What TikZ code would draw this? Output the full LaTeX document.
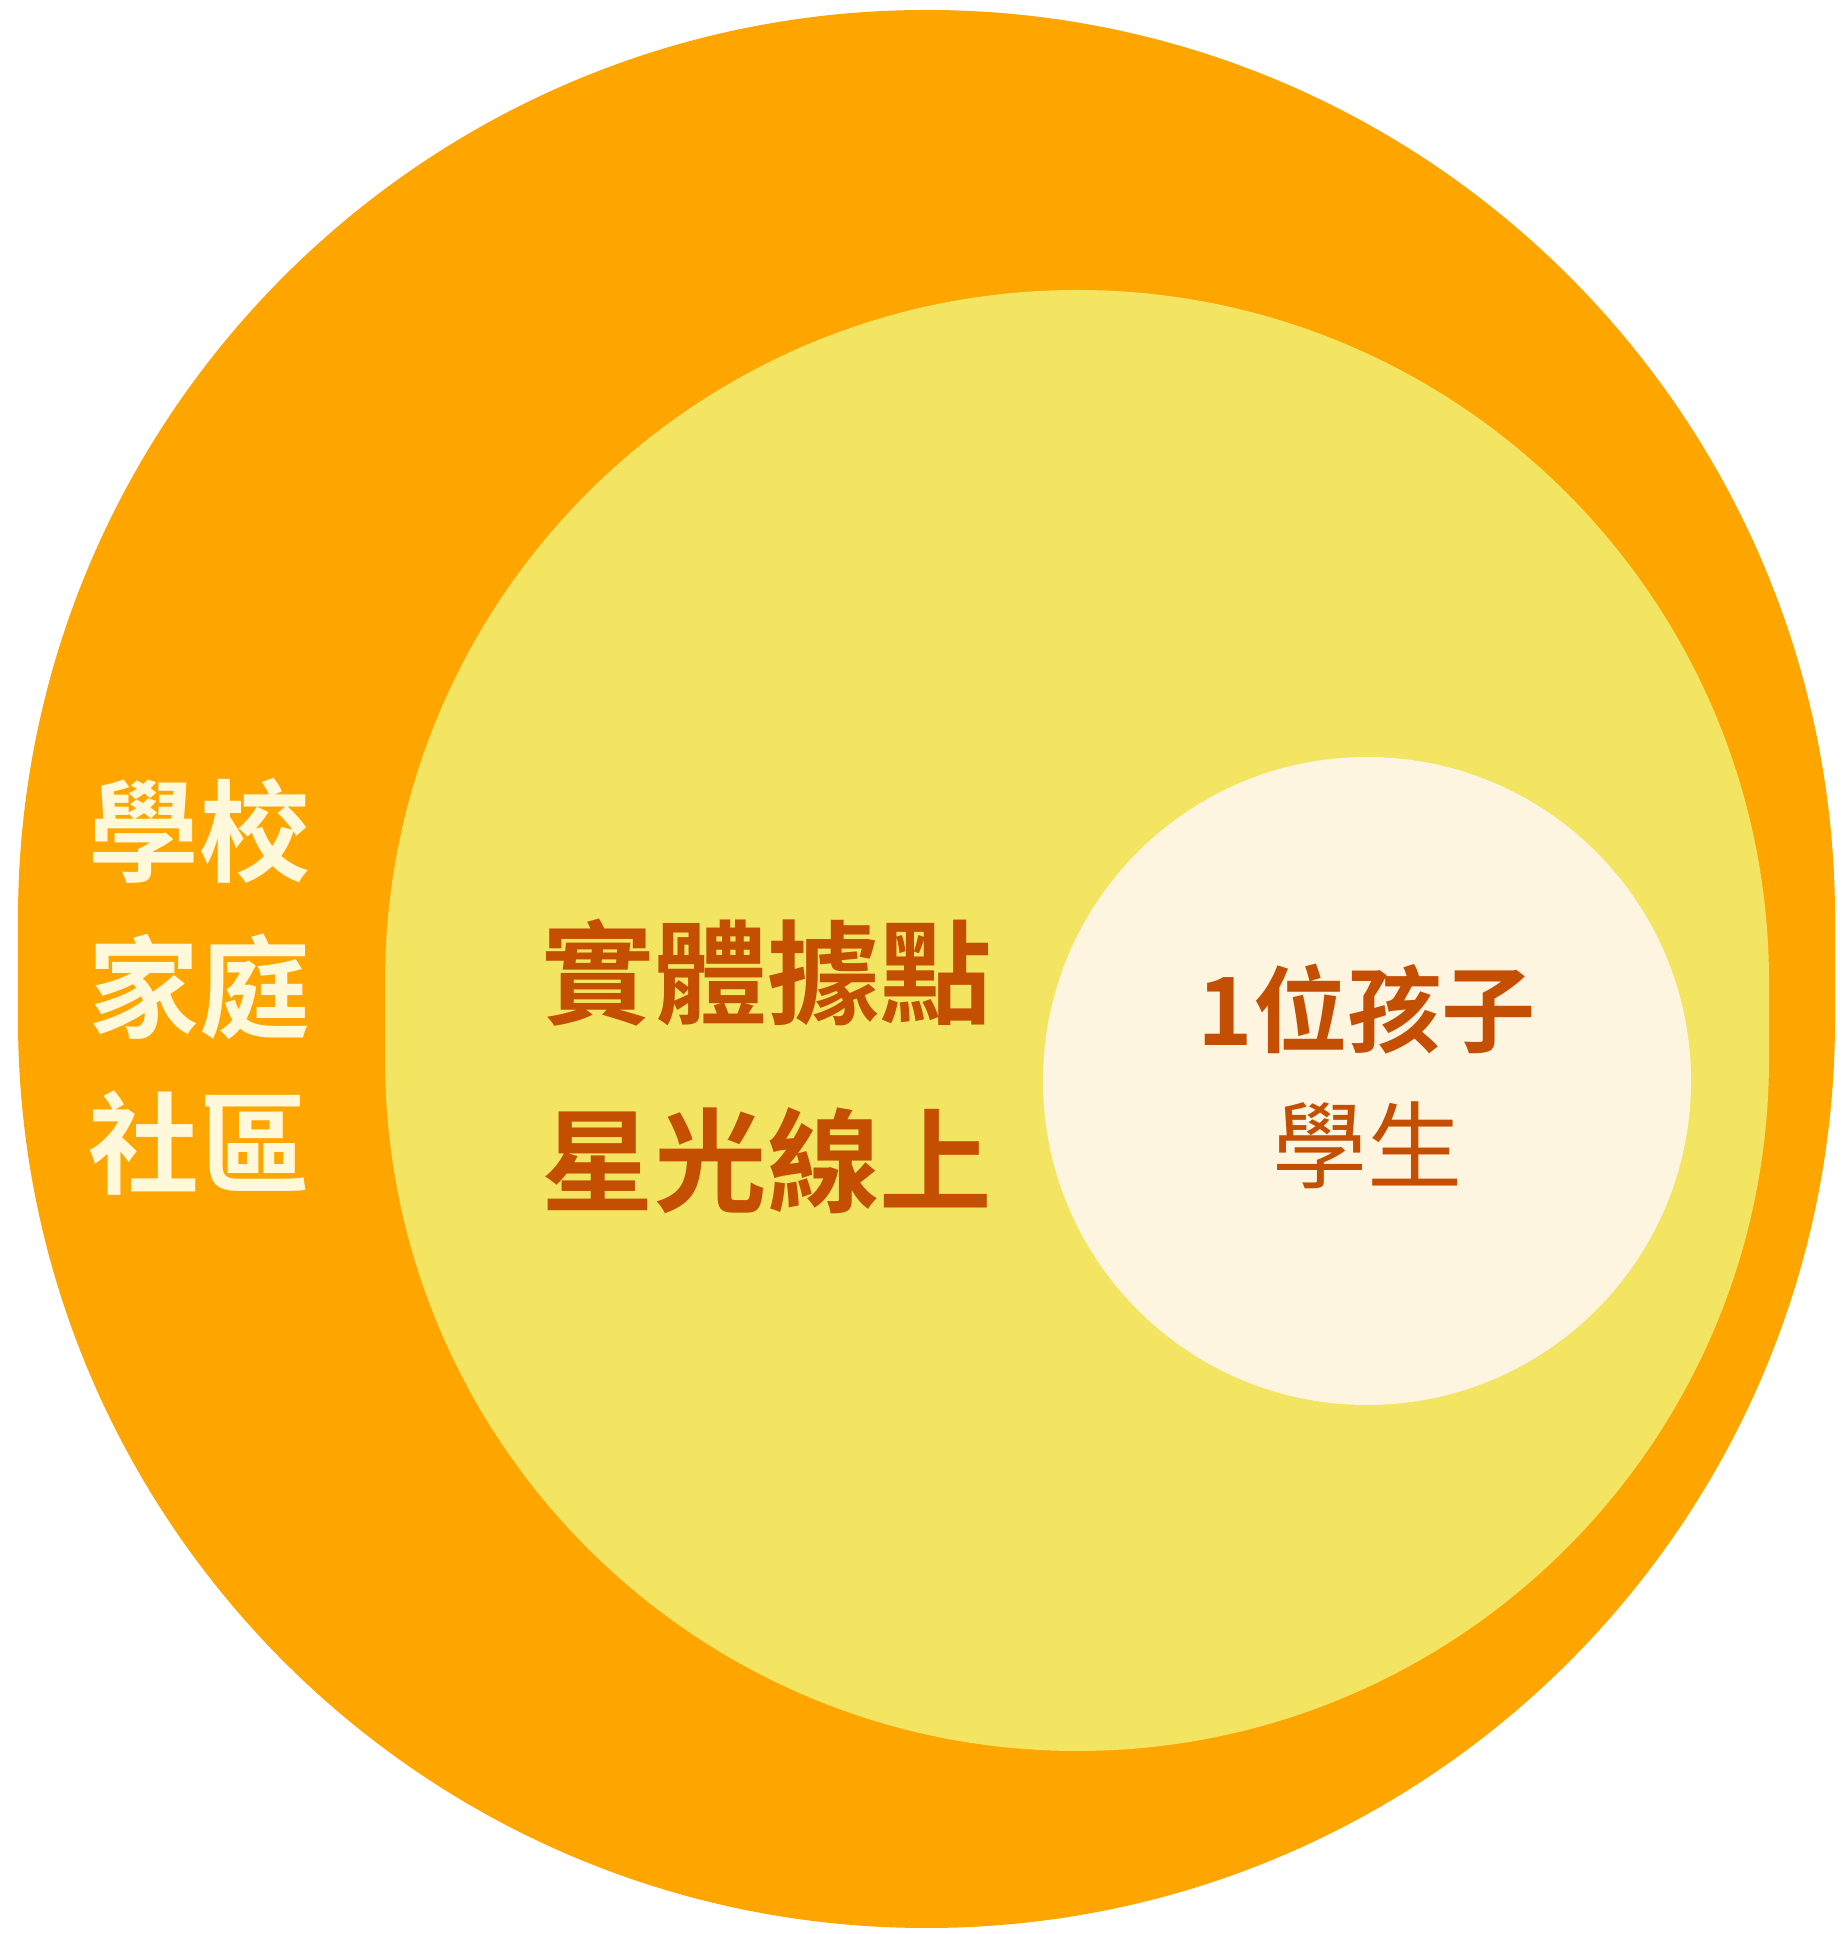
\documentclass[tikz,border=0pt]{standalone}
\usepackage{fontspec}
\setmainfont{Noto Sans CJK TC}[BoldFont={Noto Sans CJK TC Bold}]
\usepackage{xcolor}
\usepackage{tikz}
\usetikzlibrary{positioning}

\definecolor{ringorange}{HTML}{FFA500}
\definecolor{ringyellow}{HTML}{F3E462}
\definecolor{corecream}{HTML}{FDF5E0}
\definecolor{labelcream}{HTML}{FFF8DA}
\definecolor{labelrust}{HTML}{C44E02}

\tikzset{
    outerlabel/.style={text=labelcream, font=\fontsize{31.5}{38}\selectfont\bfseries, inner sep=0pt},
    midlabel/.style={text=labelrust, font=\fontsize{32}{38}\selectfont\bfseries, inner sep=0pt},
    corelabel/.style={text=labelrust, font=\fontsize{26.8}{32}\selectfont\bfseries, inner sep=0pt},
    subcorelabel/.style={text=labelrust, font=\fontsize{27}{32}\selectfont, inner sep=0pt}
}

\begin{document}
\begin{tikzpicture}[x=0.01cm, y=0.01cm]
    \useasboundingbox (0,0) rectangle (1845,1934);

    % Outer ring: school, family, community
    \fill[ringorange] (18,914.5) -- (18,1015.5)
        arc[start angle=180, end angle=0, radius=908.5] -- (1835,914.5)
        arc[start angle=0, end angle=-180, radius=908.5] -- cycle;

    % Middle ring: sites and online
    \fill[ringyellow] (385,875) -- (385,952)
        arc[start angle=180, end angle=0, radius=692] -- (1769,875)
        arc[start angle=0, end angle=-180, radius=692] -- cycle;

    % Core: the child
    \fill[corecream] (1367,853) circle[radius=324];

    % Outer labels
    \node[outerlabel] (school) at (199,1103) {學校};
    \node[outerlabel] (family) at (199,947) {家庭};
    \node[outerlabel] (community) at (199,791) {社區};

    % Middle labels
    \node[midlabel] (sites) at (767,961) {實體據點};
    \node[midlabel] (online) at (767,773) {星光線上};

    % Core labels
    \node[corelabel] (child) at (1367,925) {1位孩子};
    \node[subcorelabel] (student) at (1367,789) {學生};
\end{tikzpicture}
\end{document}
